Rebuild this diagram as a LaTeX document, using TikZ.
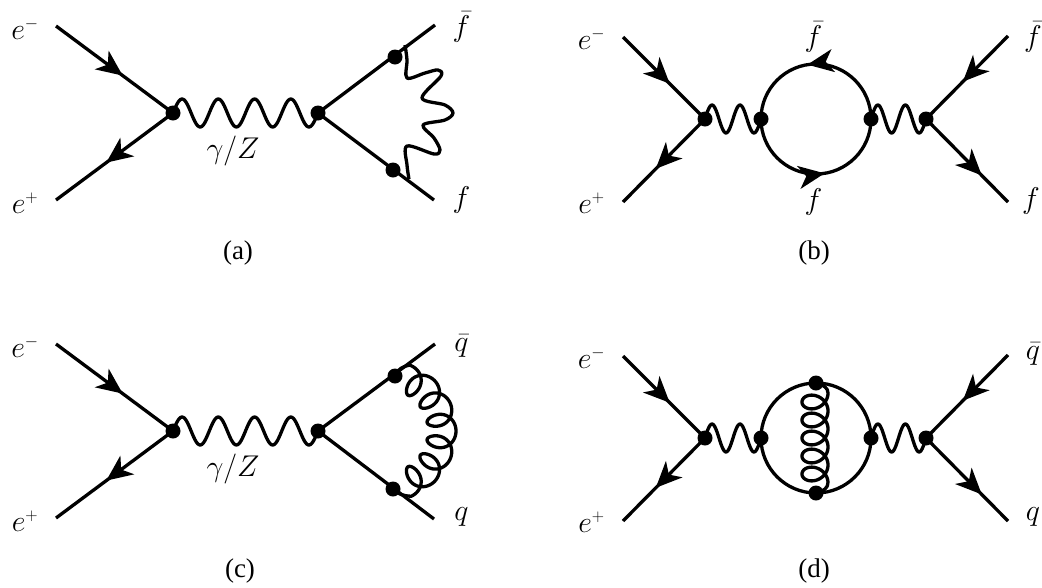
\RequirePackage{fix-cm}
\documentclass[tikz,border=0pt]{standalone}
\usepackage{fontspec}
\usetikzlibrary{decorations.markings,arrows.meta}
\newfontfamily\capfont{Liberation Serif}
\DeclareMathSizes{30}{30}{17}{13}
\tikzset{
  thickline/.style={line width=3.3pt,line cap=butt,line join=round},
  dot/.style={circle,fill=black,draw=none,minimum size=15pt,inner sep=0pt},
  lab/.style={inner sep=0pt,anchor=base,font=\fontsize{30}{36}\selectfont},
  captext/.style={inner sep=0pt,anchor=base,font=\capfont\fontsize{27}{32}\selectfont},
  arr/.style={thickline,postaction={decorate},decoration={markings,mark=at position #1 with {\arrow{Stealth[length=26pt,width=23pt,inset=7.5pt]}}}},
}
\begin{document}
\begin{tikzpicture}[x=1pt,y=-1pt]
\useasboundingbox (0,0) rectangle (1042,587);
%%% (a)
\coordinate (aem) at (56,26); \coordinate (aep) at (56,200);
\coordinate (afb) at (435,25); \coordinate (af) at (434,200);
\node[dot] (av1) at (173,113) {};
\node[dot] (av2) at (318,113) {};
\node[dot] (au) at (395,57) {};
\node[dot] (ad) at (393,170) {};
\draw[arr=0.57] (aem) -- (av1.center);
\draw[arr=0.57] (av1.center) -- (aep);
\draw[thickline] (av2.center) -- (afb);
\draw[thickline] (av2.center) -- (af);
\draw[thickline] (av1.center) -- plot[domain=0:1,samples=120,smooth,variable=\t] ({173+145*\t},{113-14*sin(1440*\t)}) -- (av2.center);
\draw[thickline] plot[smooth,tension=0.55] coordinates {(405,45) (407,60) (407,78) (425,73) (438,70) (441,76) (422,98) (445,105) (453,113) (445,120) (423,125) (434,138) (440,150) (434,154) (407,146) (407,165) (409,179)};
\node[lab] (alm) at (25,39) {$e^-$};
\node[lab] (alp) at (25,213) {$e^+$};
\node[lab] (afbl) at (461.5,36) {$\bar f$};
\node[lab] (afl) at (461.5,207) {$f$};
\node[lab] (agz) at (233,158) {$\gamma/Z$};
\node[captext] (acap) at (238,259) {(a)};
%%% (b)
\coordinate (bem) at (623,37); \coordinate (bep) at (623,202);
\coordinate (bfb) at (1008,36); \coordinate (bf) at (1008,202);
\coordinate (bc) at (816,119);
\node[dot] (bv1) at (705,119) {};
\node[dot] (bl) at (761,119) {};
\node[dot] (br) at (871,119) {};
\node[dot] (bv2) at (926,119) {};
\draw[arr=0.57] (bem) -- (bv1.center);
\draw[arr=0.6] (bv1.center) -- (bep);
\draw[arr=0.55] (bfb) -- (bv2.center);
\draw[arr=0.68] (bv2.center) -- (bf);
\draw[thickline] (bv1.center) -- plot[domain=0:1,samples=60,smooth,variable=\t] ({705+56*\t},{119-14*sin(720*\t)}) -- (bl.center);
\draw[thickline] (br.center) -- plot[domain=0:1,samples=60,smooth,variable=\t] ({871+55*\t},{119-14*sin(720*\t)}) -- (bv2.center);
\draw[arr=0.55] (br.center) arc[start angle=0,end angle=-180,radius=55];
\draw[arr=0.55] (bl.center) arc[start angle=180,end angle=0,radius=55];
\node[lab] (blm) at (591.5,49) {$e^-$};
\node[lab] (blp) at (591.5,213) {$e^+$};
\node[lab] (bfbl) at (1033,46) {$\bar f$};
\node[lab] (bfl) at (1031,208) {$f$};
\node[lab] (btop) at (813.5,46) {$\bar f$};
\node[lab] (bbot) at (813.5,209) {$f$};
\node[captext] (bcap) at (814,259) {(b)};
%%% (c)
\coordinate (cem) at (56,344); \coordinate (cep) at (56,518);
\coordinate (cfb) at (435,344); \coordinate (cf) at (434,519);
\node[dot] (cv1) at (173,431) {};
\node[dot] (cv2) at (318,431) {};
\node[dot] (cu) at (395,376) {};
\node[dot] (cd) at (393,489) {};
\draw[arr=0.57] (cem) -- (cv1.center);
\draw[arr=0.57] (cv1.center) -- (cep);
\draw[thickline] (cv2.center) -- (cfb);
\draw[thickline] (cv2.center) -- (cf);
\draw[thickline] (cv1.center) -- plot[domain=0:1,samples=120,smooth,variable=\t] ({173+145*\t},{431-14*sin(1440*\t)}) -- (cv2.center);
\draw[thickline] (cu.center) .. controls (397,369) and (404,366) .. (410,365) -- plot[domain=0:1,samples=480,variable=\t]
  ({386+(70-14*(1-cos(2160*\t)))*cos(-70+140*\t+11.5*sin(2160*\t))},
   {431+(70-14*(1-cos(2160*\t)))*sin(-70+140*\t+11.5*sin(2160*\t))}) .. controls (404,496) and (397,494) .. (cd.center);
\node[lab] (clm) at (25,357) {$e^-$};
\node[lab] (clp) at (25,531) {$e^+$};
\node[lab] (cfbl) at (461.5,351) {$\bar q$};
\node[lab] (cfl) at (461.5,520) {$q$};
\node[lab] (cgz) at (233,476) {$\gamma/Z$};
\node[captext] (ccap) at (240,577) {(c)};
%%% (d)
\coordinate (dem) at (623,356); \coordinate (dep) at (623,521);
\coordinate (dfb) at (1008,355); \coordinate (df) at (1008,521);
\coordinate (dc) at (816,438);
\node[dot] (dv1) at (705,438) {};
\node[dot] (dl) at (761,438) {};
\node[dot] (dr) at (871,438) {};
\node[dot] (dv2) at (926,438) {};
\node[dot] (dt) at (816,383) {};
\node[dot] (db) at (816,493) {};
\draw[arr=0.57] (dem) -- (dv1.center);
\draw[arr=0.6] (dv1.center) -- (dep);
\draw[arr=0.55] (dfb) -- (dv2.center);
\draw[arr=0.68] (dv2.center) -- (df);
\draw[thickline] (dv1.center) -- plot[domain=0:1,samples=60,smooth,variable=\t] ({705+56*\t},{438-14*sin(720*\t)}) -- (dl.center);
\draw[thickline] (dr.center) -- plot[domain=0:1,samples=60,smooth,variable=\t] ({871+55*\t},{438-14*sin(720*\t)}) -- (dv2.center);
\draw[thickline] (dc) circle[radius=55];
\draw[thickline] (dt.center) .. controls (824,385) and (828,388) .. (828,393) -- plot[domain=0:1,samples=400,variable=\t]
  ({828-13*(1-cos(1800*\t))},{393+90*\t+11*sin(1800*\t)}) .. controls (828,488) and (824,491) .. (db.center);
\node[lab] (dlm) at (591.5,368) {$e^-$};
\node[lab] (dlp) at (591.5,532) {$e^+$};
\node[lab] (dfbl) at (1033,359) {$\bar q$};
\node[lab] (dfl) at (1033,520) {$q$};
\node[captext] (dcap) at (814,577) {(d)};
\end{tikzpicture}
\end{document}
